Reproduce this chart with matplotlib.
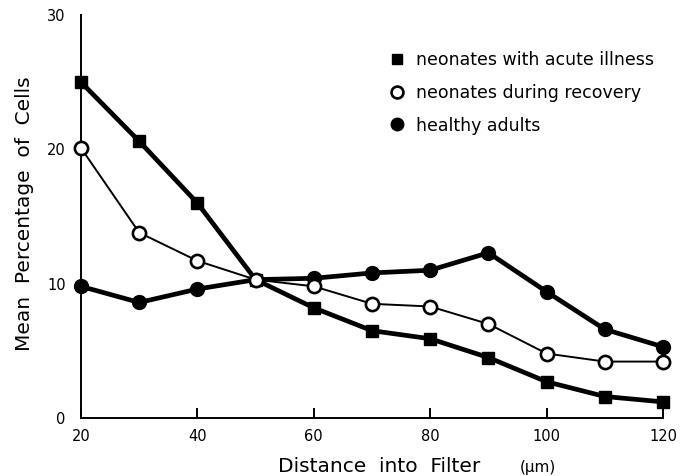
import matplotlib
matplotlib.use("Agg")
import matplotlib.pyplot as plt

distance = [20, 30, 40, 50, 60, 70, 80, 90, 100, 110, 120]
acute = [25.0, 20.6, 16.0, 10.3, 8.2, 6.5, 5.9, 4.5, 2.7, 1.6, 1.2]
recovery = [20.1, 13.8, 11.7, 10.3, 9.8, 8.5, 8.3, 7.0, 4.8, 4.2, 4.2]
adults = [9.8, 8.6, 9.6, 10.3, 10.4, 10.8, 11.0, 12.3, 9.4, 6.6, 5.3]
xticks = [20, 40, 60, 80, 100, 120]
yticks = [0, 10, 20, 30]
labels = ["neonates with acute illness", "neonates during recovery", "healthy adults"]

plt.rcParams['font.family'] = ['DejaVu Sans']

fig = plt.figure(figsize=(6.96, 4.76), dpi=100)
ax = fig.add_axes([81/696, 1-418/476, (663-81)/696, (418-15)/476])

ax.plot(distance, adults, '-', color='black', lw=3.4, marker='o', ms=10,
        mfc='black', mec='black', clip_on=False, zorder=3, label=labels[2])
ax.plot(distance, acute, '-', color='black', lw=3.4, marker='s', ms=8,
        mfc='black', mec='black', clip_on=False, zorder=4, label=labels[0])
ax.plot(distance, recovery, '-', color='black', lw=1.4, marker='o', ms=9.5,
        mfc='white', mec='black', mew=1.9, clip_on=False, zorder=5, label=labels[1])

ax.set_xlim(20, 120)
ax.set_ylim(0, 30)
for s in ['top', 'right']:
    ax.spines[s].set_visible(False)
for s in ['left', 'bottom']:
    ax.spines[s].set_linewidth(1.4)

ax.set_xticks(xticks)
ax.set_yticks(yticks)
ax.tick_params(axis='x', direction='in', length=7, width=1.4, pad=8, labelsize=10.5)
ax.tick_params(axis='y', direction='in', length=0, pad=11, labelsize=10.5)
ax.set_yticks([30], minor=True)
ax.tick_params(axis='y', which='minor', direction='in', length=8, width=1.2)
for t in ax.xaxis.get_major_ticks():
    if t.get_loc() in (20, 120):
        t.tick1line.set_visible(False)

ax.set_xlabel("Distance  into  Filter", fontsize=14.5, ha='left', va='baseline')
ax.xaxis.set_label_coords((278-81)/582, (418-472)/403)
ax.text((520-81)/582, (418-472)/403, "(µm)", transform=ax.transAxes,
        fontsize=11, ha='left', va='baseline')
ax.set_ylabel("Mean  Percentage  of  Cells", fontsize=14.5)
ax.yaxis.set_label_coords((34-81)/582, (418-214)/403)

h, l = ax.get_legend_handles_labels()
order = [1, 2, 0]
leg = ax.legend([h[i] for i in order], [l[i] for i in order],
                loc='upper left', bbox_to_anchor=((397-81)/582, (418-51)/403),
                frameon=False, borderaxespad=0, borderpad=0,
                handlelength=0, handletextpad=1.1, labelspacing=0.85, fontsize=12.5,
                markerscale=0.9)

fig.savefig("out.png", dpi=100)
